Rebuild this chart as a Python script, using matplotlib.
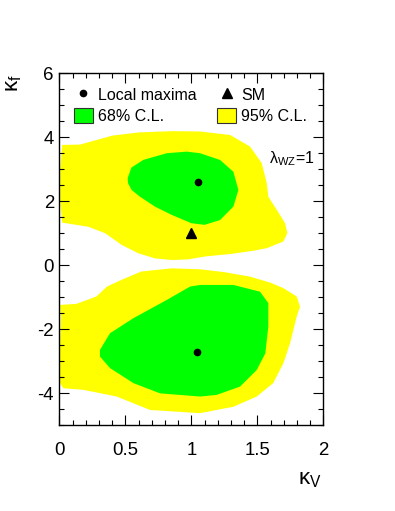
import matplotlib
matplotlib.use("Agg")
import matplotlib.pyplot as plt
from matplotlib.lines import Line2D
from matplotlib.patches import Patch
from matplotlib.ticker import MultipleLocator, FixedLocator, FixedFormatter

plt.rcParams['font.family'] = ['Liberation Sans', 'DejaVu Sans']
plt.rcParams['mathtext.fontset'] = 'custom'
plt.rcParams['mathtext.rm'] = 'Liberation Sans'
plt.rcParams['mathtext.it'] = 'Liberation Sans:italic'

# ---- data (kappa_V, kappa_f) ----
up95_x = [0.02, 0.155, 0.40, 0.60, 0.85, 1.065, 1.293, 1.444, 1.533, 1.571, 1.583, 1.647,
          1.71, 1.727, 1.697, 1.571, 1.47, 1.30, 1.103, 0.977, 0.851, 0.724, 0.598, 0.472,
          0.345, 0.218, 0.02, 0.005, 0.005]
up95_y = [3.76, 3.77, 4.05, 4.15, 4.19, 4.18, 4.07, 3.71, 3.19, 2.56, 2.14, 1.73,
          1.31, 1.00, 0.74, 0.53, 0.45, 0.35, 0.27, 0.18, 0.16, 0.21, 0.37, 0.63,
          1.00, 1.20, 1.33, 2.0, 3.0]

up68_x = [0.517, 0.545, 0.635, 0.813, 0.964, 1.065, 1.217, 1.318, 1.356, 1.318, 1.217,
          1.10, 1.0, 0.851, 0.724, 0.61, 0.547, 0.52]
up68_y = [2.72, 3.05, 3.29, 3.50, 3.55, 3.50, 3.29, 2.92, 2.35, 1.83, 1.41,
          1.26, 1.31, 1.57, 1.83, 2.14, 2.35, 2.56]

lo95_x = [0.004, 0.13, 0.28, 0.36, 0.47, 0.62, 0.85, 1.065, 1.25, 1.444, 1.60, 1.697,
          1.798, 1.823, 1.798, 1.748, 1.697, 1.62, 1.495, 1.318, 1.065, 0.686, 0.434,
          0.18, 0.029, 0.004, 0.004, 0.011]
lo95_y = [-1.245, -1.21, -0.98, -0.67, -0.46, -0.20, -0.10, -0.13, -0.22, -0.36, -0.55, -0.72,
          -0.98, -1.30, -1.61, -2.44, -3.07, -3.69, -4.11, -4.43, -4.63, -4.53, -4.11,
          -3.90, -3.85, -3.69, -2.5, -1.61]

lo68_x = [0.307, 0.383, 0.56, 0.813, 0.99, 1.065, 1.318, 1.52, 1.583, 1.583, 1.56, 1.495,
          1.368, 1.19, 1.065, 0.762, 0.56, 0.383, 0.307]
lo68_y = [-2.65, -2.13, -1.66, -1.09, -0.67, -0.62, -0.62, -0.83, -1.19, -1.92, -2.76, -3.28,
          -3.80, -4.06, -4.11, -4.01, -3.69, -3.22, -2.86]

max_x = [1.05, 1.045]
max_y = [2.59, -2.71]
sm_x = [1.0]
sm_y = [1.0]

xticks = [0, 0.5, 1, 1.5, 2]
xticklabels = ['0', '0.5', '1', '1.5', '2']
yticks = [-4, -2, 0, 2, 4, 6]
yticklabels = ['-4', '-2', '0', '2', '4', '6']

GREEN = '#00ff00'
YELLOW = '#ffff00'

fig = plt.figure(figsize=(3.95, 5.11), dpi=100)
ax = fig.add_axes([0.1506, 0.1683, 0.668, 0.6883])

ax.fill(up95_x, up95_y, color=YELLOW, lw=0)
ax.fill(lo95_x, lo95_y, color=YELLOW, lw=0)
ax.fill(up68_x, up68_y, color=GREEN, lw=0)
ax.fill(lo68_x, lo68_y, color=GREEN, lw=0)
ax.plot(max_x, max_y, 'o', color='black', ms=4.5, ls='none')
ax.plot(sm_x, sm_y, '^', color='black', ms=6.5, ls='none')

ax.set_xlim(0, 2)
ax.set_ylim(-5, 6)
ax.xaxis.set_major_locator(FixedLocator(xticks))
ax.xaxis.set_major_formatter(FixedFormatter(xticklabels))
ax.yaxis.set_major_locator(FixedLocator(yticks))
ax.yaxis.set_major_formatter(FixedFormatter(yticklabels))
ax.xaxis.set_minor_locator(MultipleLocator(0.1))
ax.yaxis.set_minor_locator(MultipleLocator(0.5))
ax.tick_params(which='both', direction='in', top=True, right=True, labelsize=13.4, width=0.8)
ax.tick_params(which='major', length=7.5)
ax.tick_params(which='minor', length=3.8)
ax.tick_params(axis='x', which='major', pad=12.5)
ax.tick_params(axis='y', which='major', pad=4)
for s in ax.spines.values():
    s.set_linewidth(1.0)

fig.text(13 / 395, 1 - 74 / 511, 'κ$_{\\rm f}$', rotation=90, fontsize=16,
         ha='center', va='top')
fig.text(322 / 395, 1 - 490 / 511, 'κ$_{\\rm V}$', fontsize=16, ha='right', va='bottom')
ax.text(1.585, 3.2, 'λ$_{\\rm WZ}$=1', fontsize=11.5, ha='left', va='baseline')

handles = [Line2D([], [], marker='o', color='black', ls='none', ms=4.5),
           Patch(facecolor=GREEN, edgecolor='#333333', lw=0.8),
           Line2D([], [], marker='^', color='black', ls='none', ms=6.5),
           Patch(facecolor=YELLOW, edgecolor='#333333', lw=0.8)]
labels = ['Local maxima', '68% C.L.', 'SM', '95% C.L.']
ax.legend(handles, labels, ncol=2, loc='upper left', bbox_to_anchor=(0.03, 0.979),
          frameon=False, fontsize=11.5, handlelength=1.2, handleheight=1.0,
          handletextpad=0.3, columnspacing=1.3, labelspacing=0.35, borderaxespad=0)

fig.savefig('out.png', dpi=100)
